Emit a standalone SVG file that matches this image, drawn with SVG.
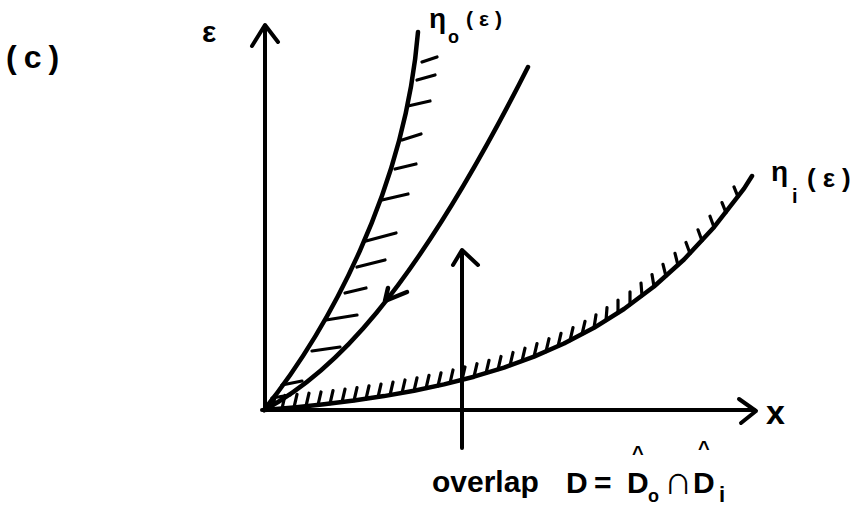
<svg xmlns="http://www.w3.org/2000/svg" width="864" height="511" viewBox="0 0 864 511">
<style>
.ln{fill:none;stroke:#000;stroke-linecap:round;stroke-linejoin:round}
.ax{stroke-width:4}
.cv{stroke-width:4.5}
.ht{stroke-width:3.2}
.t{font-family:"Liberation Sans",Arial,sans-serif;font-weight:bold;fill:#000}
</style>
<rect width="864" height="511" fill="#fff"/>
<g id="label-c"><text class="t" x="6" y="68" font-size="32" letter-spacing="7">(c)</text></g>
<g id="axes">
  <path class="ln ax" d="M265 410V26"/>
  <path class="ln ax" d="M252 46L265 25L278 42"/>
  <path class="ln ax" d="M262 410H754"/>
  <path class="ln ax" d="M739 399L756 411L741 423"/>
  <text class="t" x="202" y="42" font-size="30">ε</text>
  <text class="t" x="766" y="424" font-size="34">x</text>
</g>
<g id="eta-o">
  <path class="ln cv" d="M264 410C328 330 405 190 418 32"/>
  <path class="ln ht" d="M422 62L437 57M417 80L435 75M408 106L430 101M402 140L421 134M395 169L416 164M382 200L408 194M366 241L396 233M357 267L385 260M345 293L366 288M326 320L357 315M312 351L340 347M282 385L302 381M272 398L290 395"/>
  <text class="t" x="429" y="28" font-size="28">η</text>
  <text class="t" x="448" y="43" font-size="18">o</text>
  <text class="t" x="466" y="26" font-size="21" letter-spacing="6">(ε)</text>
</g>
<g id="eta-i">
  <polyline class="ln cv" points="264,410 294,407.4 324,404.3 354,400.6 384,396.1 414,390.8 444,384.4 474,376.7 504,367.6 534,356.6 564,343.5 594,327.8 624,309 654,286.5 684,259.5 714,227.2 744,188.6 752,176"/>
  <path class="ln ht" d="M272 409.3l3 -12M282 408.5l3 -13M294 407.4l3 -13M306 406.2l3 -13M318 405l3 -13M330 403.6l3 -13M342 402.1l3 -13M354 400.6l3 -13M366 398.9l3 -13M378 397.1l3 -13M390 395.1l3 -13M402 393l3 -13M414 390.8l3 -13M426 388.4l3 -13M438 385.8l3 -13M450 383l3 -13M462 380l3 -13M474 376.7l3 -13M486 373.3l3 -13M498 369.5l3 -13M510 365.5l3 -13M522 361.2l3 -13M534 356.6l3 -13M546 351.7l3 -13M558 346.3l3 -13M570 340.6l3 -13M582 334.4l3 -13M594 327.8l2 -13M606 320.7l1 -13M618 313l0 -13M630 304.8l0 -13M642 296l-1 -13M654 286.5l-2 -12M666 276.3l-3 -12M678 265.3l-3 -12M690 253.5l-4 -11M702 240.8l-4 -11M714 227.2l-4 -11M726 212.6l-4 -10M738 196.9l-4 -10"/>
  <text class="t" x="771" y="181" font-size="28">η</text>
  <text class="t" x="792" y="203" font-size="20">i</text>
  <text class="t" x="807" y="187" font-size="26" letter-spacing="7">(ε)</text>
</g>
<g id="connectors">
  <path class="ln cv" d="M264 410C330 375 410 300 528 67"/>
  <path class="ln cv" d="M388 288L385 301L407 292"/>
  <path class="ln ax" d="M462 448V251"/>
  <path class="ln ax" d="M453 265L462 250L478 265"/>
</g>
<g id="overlap-label">
  <text class="t" x="432" y="492" font-size="30">overlap</text>
  <text class="t" x="566" y="493" font-size="30">D</text>
  <text class="t" x="594" y="493" font-size="30">=</text>
  <text class="t" x="632" y="460" font-size="20">^</text>
  <text class="t" x="627" y="493" font-size="30">D</text>
  <text class="t" x="648" y="502" font-size="18">o</text>
  <text class="t" x="664" y="494" font-size="40">∩</text>
  <text class="t" x="698" y="455" font-size="20">^</text>
  <text class="t" x="693" y="493" font-size="30">D</text>
  <text class="t" x="719" y="502" font-size="22">i</text>
</g>
</svg>
